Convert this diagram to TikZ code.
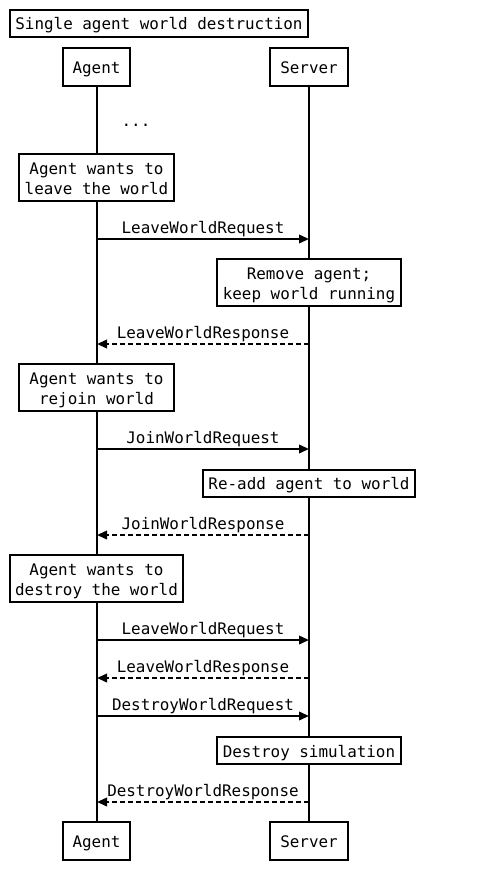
\documentclass[tikz,border=0pt]{standalone}
\usepackage{fontspec}
\setmainfont{DejaVu Sans Mono}
\usetikzlibrary{arrows.meta}
\begin{document}
\begin{tikzpicture}[x=1pt,y=-1pt,
  every node/.style={font=\fontsize{15.9}{20}\selectfont},
  box/.style={draw,line width=2pt,fill=white,inner xsep=5.5pt,inner ysep=0pt,align=center,minimum height=27pt,text height=14pt,text depth=1pt},
  box2/.style={box,minimum height=47pt,text height=34pt},
  head/.style={draw,line width=2pt,fill=white,inner xsep=10pt,inner ysep=0pt,minimum height=38pt,text height=14pt,text depth=1pt},
  life/.style={line width=2pt},
  req/.style={line width=2pt,-{Triangle[length=10pt,width=8.5pt]}},
  resp/.style={req,dash pattern=on 5pt off 3pt},
  lbl/.style={anchor=base,yshift=6pt,inner sep=0pt}]
\useasboundingbox (0,0) rectangle (493,880);
\node[box] (title) at (159,23.5) {Single agent world destruction};
\node[head] (agentT) at (96.5,67) {Agent};
\node[head] (serverT) at (309,67) {Server};
\node[head] (agentB) at (96.5,841) {Agent};
\node[head] (serverB) at (309,841) {Server};
\draw[life] (agentT) -- (agentB);
\draw[life] (serverT) -- (serverB);
\node[inner sep=0pt,anchor=base] (dots) at (136,126) {...};
\node[box2] (n1) at (96.5,177.5) {Agent wants to\\leave the world};
\node[box2] (n2) at (309,282.5) {Remove agent;\\keep world running};
\node[box2,minimum width=155pt] (n3) at (96.5,387.5) {Agent wants to\\rejoin world};
\node[box] (n4) at (309,483) {Re-add agent to world};
\node[box2] (n5) at (96.5,578.5) {Agent wants to\\destroy the world};
\node[box] (n6) at (309,750.5) {Destroy simulation};
\foreach \i/\y in {1/239,2/344,3/449,4/535,5/640,6/678,7/716,8/802}{
  \coordinate (a\i) at (97,\y);
  \coordinate (s\i) at (309,\y);
}
\draw[req] (a1) -- node[lbl]{LeaveWorldRequest} (s1);
\draw[resp] (s2) -- node[lbl]{LeaveWorldResponse} (a2);
\draw[req] (a3) -- node[lbl]{JoinWorldRequest} (s3);
\draw[resp] (s4) -- node[lbl]{JoinWorldResponse} (a4);
\draw[req] (a5) -- node[lbl]{LeaveWorldRequest} (s5);
\draw[resp] (s6) -- node[lbl]{LeaveWorldResponse} (a6);
\draw[req] (a7) -- node[lbl]{DestroyWorldRequest} (s7);
\draw[resp] (s8) -- node[lbl]{DestroyWorldResponse} (a8);
\end{tikzpicture}
\end{document}
